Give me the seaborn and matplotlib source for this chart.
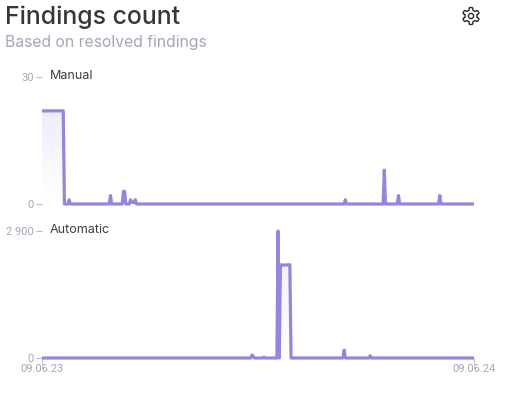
import numpy as np
import pandas as pd
import seaborn as sns
import matplotlib.pyplot as plt
from matplotlib.patches import Polygon, Circle

W, H = 510, 393
LINE = '#9486dc'
GREY = '#a3a7b3'

# days since 09.06.23
manual_days = [0, 18, 19, 22, 23, 24, 57, 58, 59, 68, 69, 70, 71, 74, 75, 76, 78, 79, 80, 256, 257, 258,
               289, 290, 291, 301, 302, 303, 336, 337, 338, 366]
manual_vals = [22, 22, 0, 0, 1, 0, 0, 2, 0, 0, 3, 3, 0, 0, 1, 0.4, 0.4, 1, 0, 0, 1, 0,
               0, 8, 0, 0, 2, 0, 0, 2, 0, 0]

auto_days = [0, 177, 178, 180, 187, 188, 189, 199, 200, 201, 202, 203, 210, 211, 255, 256, 257, 277, 278, 279, 366]
auto_vals = [0, 0, 70, 0, 0, 20, 0, 0, 2900, 0, 2130, 2120, 2130, 0, 0, 180, 0, 0, 50, 0, 0]

y_ticks_top = [0, 30]
y_ticks_bottom = [0, 2900]
y_labels_bottom = ['0', '2 900']
x_ticks = [0, 366]
x_labels = ['09.06.23', '09.06.24']


def px_axes(fig, left, top, right, bottom):
    return fig.add_axes([left / W, 1 - bottom / H, (right - left) / W, (bottom - top) / H])


def draw(ax, days, vals, ymax, title, ticks, labels):
    df = pd.DataFrame({'day': days, 'val': vals})
    fill = ax.fill_between(df['day'], df['val'], 0, color='none')
    # gradient under the line, fades to white at the base
    grad = np.linspace(1, 0, 256).reshape(-1, 1, 1) ** 1.2
    rgba = np.zeros((256, 1, 4))
    rgba[..., :3] = (0.58, 0.53, 0.87)
    rgba[..., 3:] = grad * 0.17
    top = max(vals)
    im = ax.imshow(rgba, extent=[0, 366, 0, top], aspect='auto', origin='upper', zorder=1)
    im.set_clip_path(fill.get_paths()[0], transform=ax.transData)
    sns.lineplot(data=df, x='day', y='val', ax=ax, color=LINE, linewidth=2.3, zorder=3,
                 clip_on=False, solid_joinstyle='round', solid_capstyle='butt')
    ax.set_xlim(0, 366)
    ax.set_ylim(0, ymax)
    ax.set_xlabel('')
    ax.set_ylabel('')
    sns.despine(ax=ax, left=True, bottom=True)
    ax.set_yticks(ticks, labels)
    ax.tick_params(axis='y', left=True, length=4, width=0.8, color='#b9bcc5', labelcolor=GREY,
                   labelsize=8, pad=2)
    ax.text(50 / W, 0, title, transform=fig.transFigure, fontsize=9, color='#3a3d45',
            va='center', ha='left', family='Inter')


sns.set_style('white')
plt.rcParams['font.family'] = ['Roboto', 'DejaVu Sans']

fig = plt.figure(figsize=(W / 100, H / 100), dpi=100)
ax1 = px_axes(fig, 42, 77, 474, 204)
ax2 = px_axes(fig, 42, 231, 474, 358)

draw(ax1, manual_days, manual_vals, 30, 'Manual', y_ticks_top, [str(t) for t in y_ticks_top])
draw(ax2, auto_days, auto_vals, 2900, 'Automatic', y_ticks_bottom, y_labels_bottom)
ax1.texts[0].set_y(1 - 76 / H)
ax2.texts[0].set_y(1 - 230 / H)

ax1.set_xticks([])
ax2.set_xticks(x_ticks, x_labels)
ax2.tick_params(axis='x', bottom=True, length=5, width=0.8, color='#c4c6ce', labelcolor=GREY, labelsize=8, pad=-1)

fig.text(5 / W, 1 - 17 / H, 'Findings count', fontsize=17.9, color='#35373d', va='center', ha='left',
         family='Inter', fontweight='medium')
fig.text(5 / W, 1 - 43 / H, 'Based on resolved findings', fontsize=11.3, color=GREY, va='center', ha='left',
         family='Inter')

# settings gear, drawn in pixel space on an overlay
ov = fig.add_axes([0, 0, 1, 1], facecolor='none')
ov.set_xlim(0, W)
ov.set_ylim(H, 0)
ov.axis('off')
ang = np.linspace(0, 2 * np.pi, 145)
rad = 7.2 + 1.3 * np.tanh(3 * np.cos(6 * ang))
gear = np.column_stack([471 + rad * np.sin(ang), 16 + rad * np.cos(ang)])
ov.add_patch(Polygon(gear, closed=True, fill=False, edgecolor='#26282e', linewidth=1.0))
ov.add_patch(Circle((471, 16), 2.6, fill=False, edgecolor='#26282e', linewidth=1.0))

fig.savefig('out.png', dpi=100)
